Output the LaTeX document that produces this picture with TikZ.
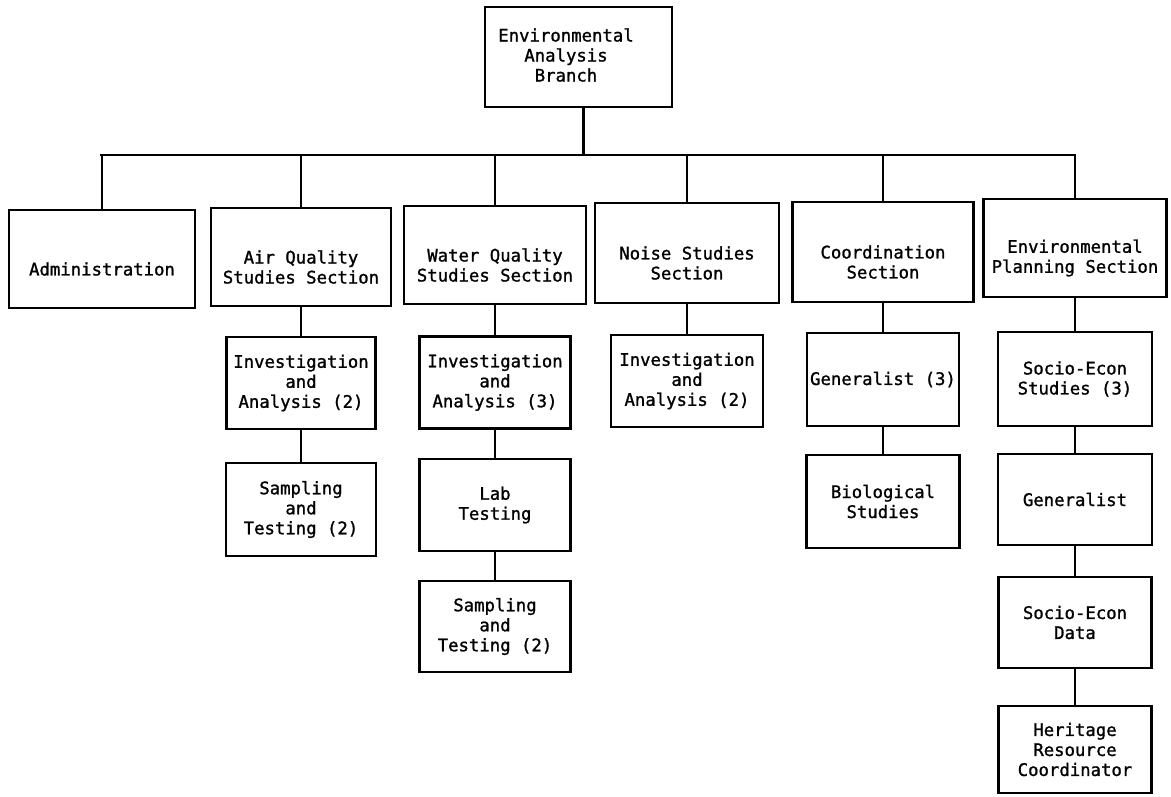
\documentclass[tikz,border=0pt]{standalone}
\usepackage{fontspec}
\newfontfamily\typewriter[FakeBold=1.2]{DejaVu Sans Mono}
\begin{document}
\begin{tikzpicture}[x=1pt,y=-1pt,
  txt/.style={align=center, font=\typewriter\fontsize{17.3}{20}\selectfont},
  box/.style={txt, draw, line width=2.2pt, inner sep=0pt},
  sect/.style={box, minimum height=98pt},
  sectext/.style={txt, yshift=-10pt},
  unit/.style={box, minimum height=92pt},
  link/.style={line width=2.2pt}]
\useasboundingbox (0,0) rectangle (1171,796);

% branch head
\node[box, minimum width=187pt, minimum height=100pt] (top) at (578.5,57) {};
\node[txt, anchor=center] (toptext) at (566,55) {Environmental\\Analysis\\Branch};

% sections
\node[sect, minimum width=186pt] (admin) at (102,259) {};
\node[sectext] at (admin.center) {Administration};
\node[sect, minimum width=180pt] (air) at (301,257) {};
\node[sectext] at (air.center) {Air Quality\\Studies Section};
\node[sect, minimum width=182pt] (water) at (495,255) {};
\node[sectext] at (water.center) {Water Quality\\Studies Section};
\node[sect, minimum width=184pt, minimum height=100pt] (noise) at (687,253) {};
\node[sectext] at (noise.center) {Noise Studies\\Section};
\node[sect, minimum width=181pt, minimum height=100pt] (coord) at (883,252) {};
\node[sectext] at (coord.center) {Coordination\\Section};
\node[sect, minimum width=183pt] (envp) at (1075,248) {};
\node[sectext] at (envp.center) {Environmental\\Planning Section};

% units under the sections
\node[unit, minimum width=149pt] (airinv) at (301,383) {Investigation\\and\\Analysis (2)};
\node[unit, minimum width=150pt, minimum height=93pt] (airsamp) at (301,509.5) {Sampling\\and\\Testing (2)};

\node[unit, minimum width=151pt] (watinv) at (495,382.5) {Investigation\\and\\Analysis (3)};
\node[unit, minimum width=151pt] (lab) at (495,505) {Lab\\Testing};
\node[unit, minimum width=151pt, minimum height=91pt] (watsamp) at (495,626.5) {Sampling\\and\\Testing (2)};

\node[unit, minimum width=152pt] (noiseinv) at (687,381) {Investigation\\and\\Analysis (2)};

\node[unit, minimum width=152pt, minimum height=93pt] (gen3) at (883,379.5) {Generalist (3)};
\node[unit, minimum width=153pt, minimum height=93pt] (bio) at (883,501.5) {Biological\\Studies};

\node[unit, minimum width=154pt, minimum height=94pt] (socst) at (1075,379) {Socio-Econ\\Studies (3)};
\node[unit, minimum width=154pt, minimum height=91pt] (gen) at (1075,499.5) {Generalist};
\node[unit, minimum width=153pt, minimum height=91pt] (socdata) at (1075,622.5) {Socio-Econ\\Data};
\node[unit, minimum width=153pt, minimum height=87pt] (herit) at (1075,749.5) {Heritage\\Resource\\Coordinator};

% distribution bus
\coordinate (busL) at (101,155);
\coordinate (busR) at (1075,155);
\draw[link, line cap=rect] (busL) -- (busR);
\draw[link] ([xshift=5pt]top.south) -- ([xshift=5pt]top.south |- busL);
\foreach \s in {admin,air,water,noise,coord,envp}
  \draw[link] (\s.north) -- (\s.north |- busL);

% vertical chains
\draw[link] (air.south) -- (airinv.north);
\draw[link] (airinv.south) -- (airsamp.north);
\draw[link] (water.south) -- (watinv.north);
\draw[link] (watinv.south) -- (lab.north);
\draw[link] (lab.south) -- (watsamp.north);
\draw[link] (noise.south) -- (noiseinv.north);
\draw[link] (coord.south) -- (gen3.north);
\draw[link] (gen3.south) -- (bio.north);
\draw[link] (envp.south) -- (socst.north);
\draw[link] (socst.south) -- (gen.north);
\draw[link] (gen.south) -- (socdata.north);
\draw[link] (socdata.south) -- (herit.north);
\end{tikzpicture}
\end{document}
